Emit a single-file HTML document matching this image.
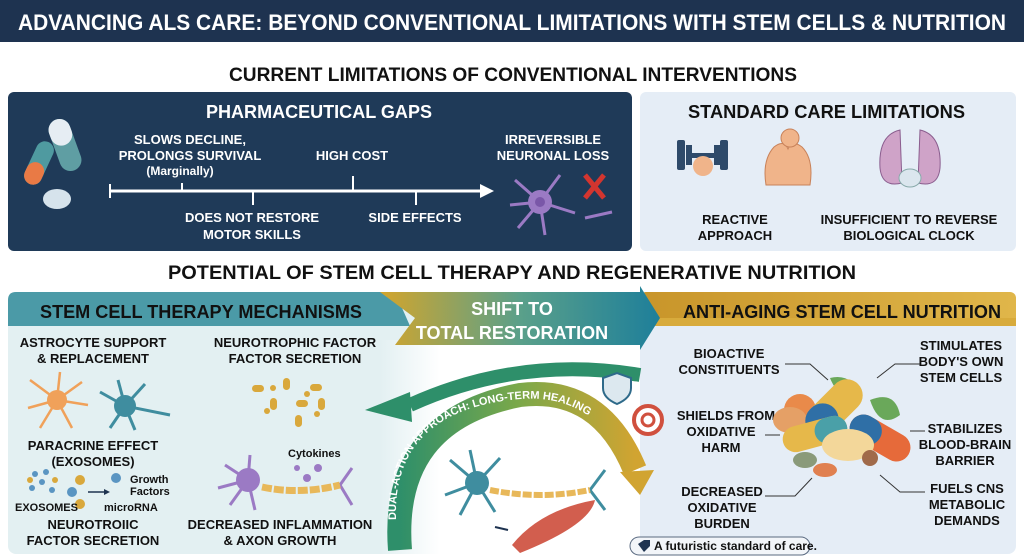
<!DOCTYPE html>
<html><head><meta charset="utf-8"><style>
html,body{margin:0;padding:0;background:#fff;width:1024px;height:559px;overflow:hidden}
svg{display:block}
text{font-family:"Liberation Sans",sans-serif;font-weight:bold}
</style></head><body>
<svg width="1024" height="559" viewBox="0 0 1024 559" xmlns="http://www.w3.org/2000/svg">
<defs>
<linearGradient id="gold" x1="0" x2="1"><stop offset="0" stop-color="#c8952a"/><stop offset="1" stop-color="#e0b64a"/></linearGradient>
<linearGradient id="shift" x1="0" x2="1"><stop offset="0" stop-color="#d3a52c"/><stop offset="0.5" stop-color="#5aa08a"/><stop offset="1" stop-color="#1e7f9a"/></linearGradient>
<linearGradient id="arc" x1="0" x2="1"><stop offset="0" stop-color="#2e8f6a"/><stop offset="0.5" stop-color="#7aa84a"/><stop offset="1" stop-color="#d1a431"/></linearGradient>
<linearGradient id="fade" x1="0" y1="0" x2="1" y2="0"><stop offset="0" stop-color="#e3f0f2"/><stop offset="1" stop-color="#ffffff"/></linearGradient>
</defs>
<rect x="0" y="0" width="1024" height="42" fill="#1e3350"/>
<text x="18" y="30" font-size="22" fill="#fff" textLength="988" lengthAdjust="spacingAndGlyphs">ADVANCING ALS CARE: BEYOND CONVENTIONAL LIMITATIONS WITH STEM CELLS &amp; NUTRITION</text>
<text x="229" y="81" font-size="19" fill="#111" textLength="568" lengthAdjust="spacingAndGlyphs">CURRENT LIMITATIONS OF CONVENTIONAL INTERVENTIONS</text>

<rect x="8" y="92" width="624" height="159" rx="6" fill="#1f3a58"/>
<text x="206" y="118" font-size="18" fill="#fff" textLength="226" lengthAdjust="spacingAndGlyphs">PHARMACEUTICAL GAPS</text>
<g>
<rect x="30" y="140" width="18" height="46" rx="9" fill="#4f9aa0" transform="rotate(25 39 163)"/>
<rect x="30" y="163" width="18" height="23" rx="9" fill="#e97a45" transform="rotate(25 39 163)"/>
<rect x="54" y="118" width="22" height="54" rx="11" fill="#5f9ea3" transform="rotate(-20 65 145)"/>
<rect x="54" y="118" width="22" height="27" rx="11" fill="#e6edf3" transform="rotate(-20 65 145)"/>
<ellipse cx="57" cy="199" rx="14" ry="10" fill="#d6e3ec"/>
</g>
<line x1="110" y1="191" x2="482" y2="191" stroke="#fff" stroke-width="3"/>
<polygon points="480,184 494,191 480,198" fill="#fff"/>
<line x1="110" y1="184" x2="110" y2="198" stroke="#fff" stroke-width="2"/>
<line x1="182" y1="183" x2="182" y2="191" stroke="#fff" stroke-width="2"/>
<line x1="253" y1="191" x2="253" y2="205" stroke="#fff" stroke-width="2"/>
<line x1="353" y1="176" x2="353" y2="191" stroke="#fff" stroke-width="2"/>
<line x1="416" y1="191" x2="416" y2="205" stroke="#fff" stroke-width="2"/>
<g fill="#fff" font-size="13" text-anchor="middle">
<text x="190" y="144">SLOWS DECLINE,</text>
<text x="190" y="160">PROLONGS SURVIVAL</text>
<text x="180" y="175" font-weight="normal" font-size="12">(Marginally)</text>
<text x="352" y="160">HIGH COST</text>
<text x="252" y="222">DOES NOT RESTORE</text>
<text x="252" y="239">MOTOR SKILLS</text>
<text x="415" y="222">SIDE EFFECTS</text>
<text x="553" y="144">IRREVERSIBLE</text>
<text x="553" y="160">NEURONAL LOSS</text>
</g>
<g stroke="#9b7ac4" stroke-width="3" fill="none">
<line x1="540" y1="202" x2="515" y2="180"/><line x1="540" y1="202" x2="510" y2="205"/><line x1="540" y1="202" x2="518" y2="228"/><line x1="540" y1="202" x2="560" y2="175"/><line x1="540" y1="202" x2="545" y2="235"/><line x1="540" y1="202" x2="575" y2="213"/><line x1="585" y1="218" x2="612" y2="212"/>
</g>
<circle cx="540" cy="202" r="12" fill="#9b7ac4"/><circle cx="540" cy="202" r="5" fill="#7a57a8"/>
<g stroke="#d3352f" stroke-width="5"><line x1="585" y1="175" x2="604" y2="198"/><line x1="604" y1="175" x2="585" y2="198"/></g>

<rect x="640" y="92" width="376" height="159" rx="6" fill="#e5edf6"/>
<text x="688" y="118" font-size="18" fill="#111" textLength="277" lengthAdjust="spacingAndGlyphs">STANDARD CARE LIMITATIONS</text>
<rect x="677" y="140" width="8" height="30" rx="2" fill="#2e4a6a"/><rect x="686" y="145" width="6" height="20" fill="#2e4a6a"/>
<rect x="692" y="153" width="22" height="5" fill="#2e4a6a"/>
<rect x="714" y="145" width="6" height="20" fill="#2e4a6a"/><rect x="720" y="140" width="8" height="30" rx="2" fill="#2e4a6a"/>
<ellipse cx="703" cy="166" rx="10" ry="10" fill="#f0b48a"/>
<path d="M766 185 q-4 -25 8 -38 q10 -8 14 2 q4 -10 14 -2 q12 12 8 38 z" fill="#f0b48a" stroke="#c8825a"/>
<circle cx="790" cy="138" r="9" fill="#f0b48a" stroke="#c8825a"/>
<path d="M900 130 q-22 5 -20 38 q2 20 22 15 z M920 130 q22 5 20 38 q-2 20 -22 15 z" fill="#cfa3c8" stroke="#8a5d8e"/>
<ellipse cx="910" cy="178" rx="11" ry="9" fill="#dbe6ee" stroke="#8aa"/>
<g fill="#111" font-size="13" text-anchor="middle">
<text x="735" y="224">REACTIVE</text><text x="735" y="240">APPROACH</text>
<text x="909" y="224">INSUFFICIENT TO REVERSE</text><text x="909" y="240">BIOLOGICAL CLOCK</text>
</g>

<text x="168" y="279" font-size="19" fill="#111" textLength="688" lengthAdjust="spacingAndGlyphs">POTENTIAL OF STEM CELL THERAPY AND REGENERATIVE NUTRITION</text>

<rect x="8" y="292" width="420" height="262" rx="8" fill="#e3f0f2"/>
<rect x="380" y="340" width="60" height="214" fill="url(#fade)"/>
<path d="M16 292 H395 L410 326 H8 V300 Q8 292 16 292 Z" fill="#4b9aa7"/>
<text x="40" y="318" font-size="18" fill="#111" textLength="322" lengthAdjust="spacingAndGlyphs">STEM CELL THERAPY MECHANISMS</text>
<g fill="#111" font-size="13" text-anchor="middle">
<text x="93" y="347">ASTROCYTE SUPPORT</text><text x="93" y="363">&amp; REPLACEMENT</text>
<text x="295" y="347">NEUROTROPHIC FACTOR</text><text x="295" y="363">FACTOR SECRETION</text>
<text x="93" y="450">PARACRINE EFFECT</text><text x="93" y="466">(EXOSOMES)</text>
<text x="93" y="529">NEUROTROIIC</text><text x="93" y="545">FACTOR SECRETION</text>
<text x="280" y="529">DECREASED INFLAMMATION</text><text x="280" y="545">&amp; AXON GROWTH</text>
</g>
<g stroke="#f0a15a" stroke-width="2.5"><line x1="57" y1="400" x2="30" y2="380"/><line x1="57" y1="400" x2="60" y2="372"/><line x1="57" y1="400" x2="82" y2="382"/><line x1="57" y1="400" x2="28" y2="408"/><line x1="57" y1="400" x2="40" y2="428"/><line x1="57" y1="400" x2="72" y2="428"/><line x1="57" y1="400" x2="88" y2="405"/></g>
<circle cx="57" cy="400" r="10" fill="#f0a15a"/>
<g stroke="#3f8d9f" stroke-width="3"><line x1="125" y1="406" x2="100" y2="392"/><line x1="125" y1="406" x2="118" y2="380"/><line x1="125" y1="406" x2="145" y2="384"/><line x1="125" y1="406" x2="170" y2="415"/><line x1="125" y1="406" x2="110" y2="428"/><line x1="125" y1="406" x2="135" y2="430"/></g>
<circle cx="125" cy="406" r="11" fill="#3f8d9f"/>
<g fill="#5a95c2"><circle cx="35" cy="474" r="3"/><circle cx="46" cy="472" r="3"/><circle cx="42" cy="482" r="3"/><circle cx="32" cy="488" r="3"/><circle cx="52" cy="490" r="3"/><circle cx="72" cy="492" r="5"/><circle cx="116" cy="478" r="5"/></g>
<g fill="#d9a83c"><circle cx="30" cy="480" r="3"/><circle cx="55" cy="480" r="3"/><circle cx="80" cy="480" r="5"/><circle cx="80" cy="504" r="5"/></g>
<line x1="88" y1="492" x2="105" y2="492" stroke="#1e3350" stroke-width="1.5"/><polygon points="104,489 110,492 104,495" fill="#1e3350"/>
<g font-size="11" fill="#111"><text x="130" y="483" font-weight="normal">Growth</text><text x="130" y="495" font-weight="normal">Factors</text><text x="15" y="511" font-weight="normal">EXOSOMES</text><text x="104" y="511" font-weight="normal">microRNA</text><text x="288" y="457" font-weight="normal">Cytokines</text></g>
<g fill="#d9a83c"><rect x="252" y="385" width="12" height="7" rx="3.5"/><rect x="283" y="378" width="7" height="12" rx="3.5"/><rect x="310" y="384" width="12" height="7" rx="3.5"/><rect x="270" y="398" width="7" height="12" rx="3.5"/><rect x="296" y="400" width="12" height="7" rx="3.5"/><rect x="318" y="398" width="7" height="12" rx="3.5"/><rect x="295" y="415" width="7" height="12" rx="3.5"/><circle cx="273" cy="388" r="3"/><circle cx="307" cy="394" r="3"/><circle cx="267" cy="411" r="3"/><circle cx="317" cy="414" r="3"/></g>
<g stroke="#9b7ac4" stroke-width="3"><line x1="248" y1="480" x2="225" y2="465"/><line x1="248" y1="480" x2="250" y2="455"/><line x1="248" y1="480" x2="218" y2="488"/><line x1="248" y1="480" x2="230" y2="505"/><line x1="248" y1="480" x2="255" y2="510"/><line x1="340" y1="485" x2="352" y2="468"/><line x1="340" y1="485" x2="352" y2="505"/></g>
<circle cx="248" cy="480" r="12" fill="#9b7ac4"/>
<path d="M262 487 Q300 495 340 485" stroke="#e8b85a" stroke-width="7" fill="none" stroke-dasharray="10 2"/>
<g fill="#9b7ac4"><circle cx="297" cy="468" r="3"/><circle cx="318" cy="468" r="4"/><circle cx="307" cy="478" r="4"/></g>

<rect x="640" y="292" width="376" height="262" rx="8" fill="#e5edf6"/>
<rect x="640" y="292" width="376" height="34" rx="6" fill="url(#gold)"/>
<rect x="640" y="318" width="376" height="8" fill="#d8ab3c"/>
<text x="683" y="318" font-size="18" fill="#111" textLength="318" lengthAdjust="spacingAndGlyphs">ANTI-AGING STEM CELL NUTRITION</text>

<polygon points="380,292 640,292 640,286 660,318 640,350 640,345 395,345 415,318" fill="url(#shift)"/>
<text x="512" y="315" font-size="18" fill="#fff" text-anchor="middle">SHIFT TO</text>
<text x="512" y="339" font-size="18" fill="#fff" text-anchor="middle">TOTAL RESTORATION</text>

<rect x="440" y="350" width="200" height="204" fill="#fff"/>
<path d="M640 375 Q520 355 410 405" stroke="#2e8f6a" stroke-width="14" fill="none"/>
<polygon points="365,410 410,392 412,422" fill="#2e8f6a"/>
<path d="M400 550 Q390 420 520 395 Q600 385 635 470" stroke="url(#arc)" stroke-width="24" fill="none"/>
<polygon points="620,472 654,470 640,495" fill="#d1a431"/>
<text font-size="11" fill="#fff"><textPath href="#tp">DUAL-ACTION APPROACH: LONG-TERM HEALING</textPath></text>
<path id="tp" d="M396 520 Q392 410 520 399 Q595 393 632 470" fill="none"/>
<g stroke="#3f8d9f" stroke-width="3"><line x1="477" y1="483" x2="450" y2="460"/><line x1="477" y1="483" x2="470" y2="450"/><line x1="477" y1="483" x2="500" y2="458"/><line x1="477" y1="483" x2="445" y2="495"/><line x1="477" y1="483" x2="460" y2="515"/><line x1="477" y1="483" x2="495" y2="512"/><line x1="590" y1="490" x2="605" y2="470"/><line x1="590" y1="490" x2="605" y2="510"/></g>
<circle cx="477" cy="483" r="12" fill="#3f8d9f"/>
<path d="M490 490 Q540 500 590 490" stroke="#e8b85a" stroke-width="6" fill="none" stroke-dasharray="9 2"/>
<path d="M512 545 Q540 510 595 500 Q590 525 520 553 Z" fill="#d25e4e"/>
<path d="M495 527 L508 530" stroke="#1e3350" stroke-width="2"/>
<path d="M603 378 l14 -5 l14 5 v10 q0 10 -14 16 q-14 -6 -14 -16 z" fill="#dce8ef" stroke="#2e6a8a" stroke-width="2"/>
<circle cx="648" cy="420" r="14" fill="#fff" stroke="#d0503e" stroke-width="4"/><circle cx="648" cy="420" r="6" fill="none" stroke="#d0503e" stroke-width="3"/>

<g fill="#111" font-size="13" text-anchor="middle">
<text x="729" y="358">BIOACTIVE</text><text x="729" y="374">CONSTITUENTS</text>
<text x="961" y="350">STIMULATES</text><text x="961" y="366">BODY'S OWN</text><text x="961" y="382">STEM CELLS</text>
<text x="726" y="420">SHIELDS FROM</text><text x="721" y="436">OXIDATIVE</text><text x="721" y="452">HARM</text>
<text x="965" y="433">STABILIZES</text><text x="965" y="449">BLOOD-BRAIN</text><text x="965" y="465">BARRIER</text>
<text x="722" y="496">DECREASED</text><text x="722" y="512">OXIDATIVE</text><text x="722" y="528">BURDEN</text>
<text x="967" y="493">FUELS CNS</text><text x="967" y="509">METABOLIC</text><text x="967" y="525">DEMANDS</text>
</g>
<g stroke="#333" stroke-width="1" fill="none">
<polyline points="785,364 810,364 828,380"/><polyline points="920,364 895,364 877,378"/>
<polyline points="765,435 780,435"/><polyline points="910,431 925,431"/>
<polyline points="765,496 795,496 812,478"/><polyline points="925,492 900,492 880,475"/>
</g>
<g>
<circle cx="800" cy="410" r="16" fill="#e98a4a"/><ellipse cx="790" cy="420" rx="17" ry="13" fill="#e5a066"/>
<path d="M830 378 q20 -5 30 15 q-20 10 -30 -15z" fill="#6aa85a"/>
<path d="M870 400 q25 -10 30 15 q-20 15 -30 -15z" fill="#6aa85a"/>
<rect x="818" y="374" width="32" height="68" rx="16" fill="#e6b84a" transform="rotate(45 834 408)"/>
<rect x="818" y="408" width="32" height="34" rx="16" fill="#2f6fa6" transform="rotate(45 834 408)"/>
<rect x="782" y="421" width="66" height="26" rx="13" fill="#e6b84a" transform="rotate(-15 815 434)"/>
<rect x="815" y="421" width="33" height="26" rx="13" fill="#4aa0a8" transform="rotate(-15 815 434)"/>
<rect x="847" y="424" width="66" height="28" rx="14" fill="#e66a3a" transform="rotate(30 880 438)"/>
<rect x="847" y="424" width="33" height="28" rx="14" fill="#2f6fa6" transform="rotate(30 880 438)"/>
<ellipse cx="848" cy="445" rx="26" ry="16" fill="#f3d79a"/>
<ellipse cx="805" cy="460" rx="12" ry="8" fill="#8a9a7a"/><ellipse cx="825" cy="470" rx="12" ry="7" fill="#e08050"/>
<circle cx="870" cy="458" r="8" fill="#a06a4a"/>
</g>
<rect x="630" y="537" width="180" height="18" rx="9" fill="#f2f5f9" stroke="#5a6a80"/>
<path d="M638 544 l6 -4 l6 0 l0 6 l-6 6 z" fill="#1e3350"/>
<text x="654" y="550" font-size="12" font-weight="normal" fill="#111">A futuristic standard of care.</text>
</svg>
</body></html>
